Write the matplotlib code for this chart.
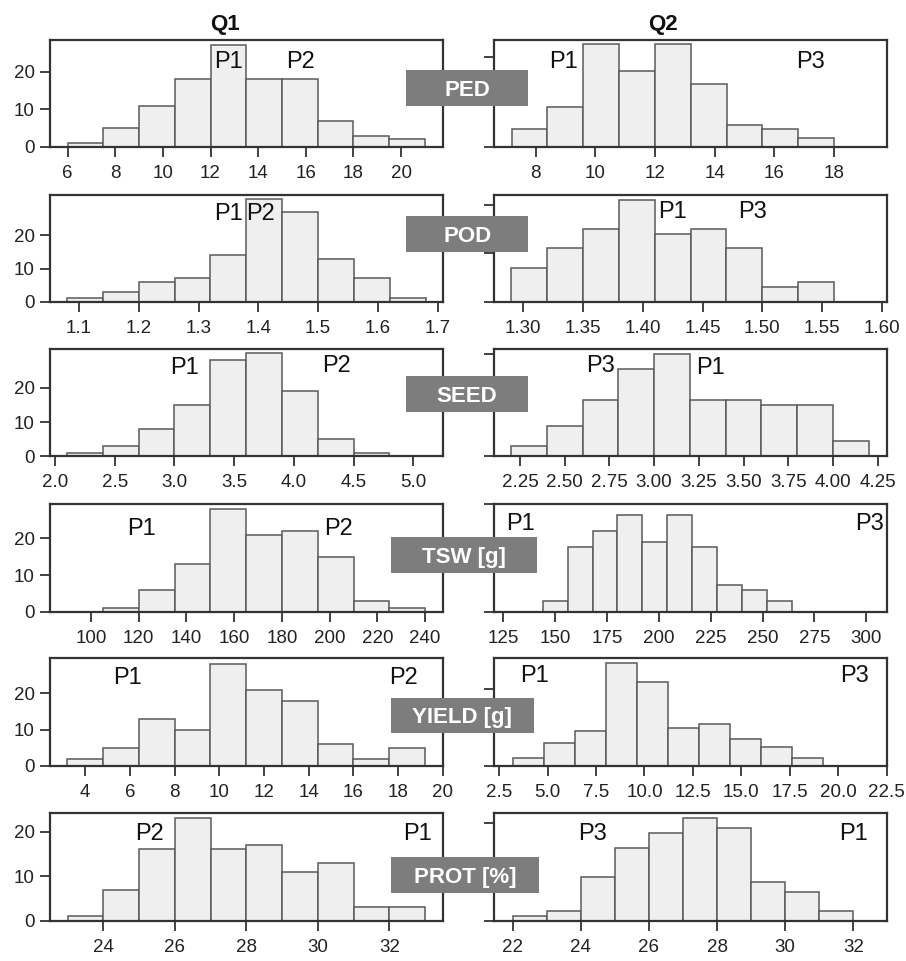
import matplotlib
matplotlib.use('Agg')
import matplotlib.pyplot as plt
from matplotlib.patches import Rectangle

plt.rcParams['font.family'] = ['Liberation Sans', 'DejaVu Sans']

W, H = 906, 961

# ---------- data (bin edges and counts per trait / population) ----------
ped_q1_edges = [6, 7.5, 9, 10.5, 12, 13.5, 15, 16.5, 18, 19.5, 21]
ped_q1_counts = [1, 5, 11, 18, 27, 18, 18, 7, 3, 2]
ped_q2_edges = [7.2, 8.4, 9.6, 10.8, 12.0, 13.2, 14.4, 15.6, 16.8, 18.0]
ped_q2_counts = [4, 9, 23, 17, 23, 14, 5, 4, 2]

pod_q1_edges = [1.08, 1.14, 1.20, 1.26, 1.32, 1.38, 1.44, 1.50, 1.56, 1.62, 1.68]
pod_q1_counts = [1, 3, 6, 7, 14, 31, 27, 13, 7, 1]
pod_q2_edges = [1.29, 1.32, 1.35, 1.38, 1.41, 1.44, 1.47, 1.50, 1.53, 1.56]
pod_q2_counts = [7, 11, 15, 21, 14, 15, 11, 3, 4]

seed_q1_edges = [2.1, 2.4, 2.7, 3.0, 3.3, 3.6, 3.9, 4.2, 4.5, 4.8]
seed_q1_counts = [1, 3, 8, 15, 28, 30, 19, 5, 1]
seed_q2_edges = [2.2, 2.4, 2.6, 2.8, 3.0, 3.2, 3.4, 3.6, 3.8, 4.0, 4.2]
seed_q2_counts = [2, 6, 11, 17, 20, 11, 11, 10, 10, 3]

tsw_q1_edges = [105, 120, 135, 150, 165, 180, 195, 210, 225, 240]
tsw_q1_counts = [1, 6, 13, 28, 21, 22, 15, 3, 1]
tsw_q2_edges = [144, 156, 168, 180, 192, 204, 216, 228, 240, 252, 264]
tsw_q2_counts = [2, 12, 15, 18, 13, 18, 12, 5, 4, 2]

yield_q1_edges = [3.2, 4.8, 6.4, 8.0, 9.6, 11.2, 12.8, 14.4, 16.0, 17.6, 19.2]
yield_q1_counts = [2, 5, 13, 10, 28, 21, 18, 6, 2, 5]
yield_q2_edges = [3.2, 4.8, 6.4, 8.0, 9.6, 11.2, 12.8, 14.4, 16.0, 17.6, 19.2]
yield_q2_counts = [2, 6, 9, 27, 22, 10, 11, 7, 5, 2]

prot_q1_edges = [23, 24, 25, 26, 27, 28, 29, 30, 31, 32, 33]
prot_q1_counts = [1, 7, 16, 23, 16, 17, 11, 13, 3, 3]
prot_q2_edges = [22, 23, 24, 25, 26, 27, 28, 29, 30, 31, 32]
prot_q2_counts = [1, 2, 9, 15, 18, 21, 19, 8, 6, 2]

# tick labels
ped_q1_ticks = ['6', '8', '10', '12', '14', '16', '18', '20']
ped_q2_ticks = ['8', '10', '12', '14', '16', '18']
pod_q1_ticks = ['1.1', '1.2', '1.3', '1.4', '1.5', '1.6', '1.7']
pod_q2_ticks = ['1.30', '1.35', '1.40', '1.45', '1.50', '1.55', '1.60']
seed_q1_ticks = ['2.0', '2.5', '3.0', '3.5', '4.0', '4.5', '5.0']
seed_q2_ticks = ['2.25', '2.50', '2.75', '3.00', '3.25', '3.50', '3.75', '4.00', '4.25']
tsw_q1_ticks = ['100', '120', '140', '160', '180', '200', '220', '240']
tsw_q2_ticks = ['125', '150', '175', '200', '225', '250', '275', '300']
yield_q1_ticks = ['4', '6', '8', '10', '12', '14', '16', '18', '20']
yield_q2_ticks = ['2.5', '5.0', '7.5', '10.0', '12.5', '15.0', '17.5', '20.0', '22.5']
prot_q1_ticks = ['24', '26', '28', '30', '32']
prot_q2_ticks = ['22', '24', '26', '28', '30', '32']

traits = ['PED', 'POD', 'SEED', 'TSW [g]', 'YIELD [g]', 'PROT [%]']
q1_parents = [['P1', 'P2'], ['P1', 'P2'], ['P1', 'P2'], ['P1', 'P2'], ['P1', 'P2'], ['P2', 'P1']]
q2_parents = [['P1', 'P3'], ['P1', 'P3'], ['P3', 'P1'], ['P1', 'P3'], ['P1', 'P3'], ['P3', 'P1']]

# ---------- layout (pixels) ----------
row_y = [(39.5, 147), (194.5, 301.7), (349, 456.3), (504, 611.7), (658.3, 765.8), (813.3, 920.8)]
left_x = (50, 443)
right_x = (494, 887)

q1_xlims = [(5.26, 21.76), (1.0515, 1.709), (1.958, 5.249), (82.8, 247.5), (2.42, 20.01), (22.51, 33.5)]
q2_xlims = [(6.61, 19.77), (1.2755, 1.6044), (2.105, 4.302), (120.5, 310), (2.24, 22.51), (21.45, 32.99)]
q1_ytop = [28.5, 32.3, 31.3, 29.4, 29.7, 24.1]
q2_ytop = [23.9, 22.1, 21.0, 18.9, 28.1, 22.05]

q1_text_pos = [[(228, 60), (301, 60)], [(228, 212), (261, 212)], [(185, 365.5), (336, 363.5)],
               [(141.7, 526.7), (338.7, 526.7)], [(127.3, 675), (403.3, 675)], [(149.5, 831.7), (417.3, 831.7)]]
q2_text_pos = [[(563.3, 60), (810.7, 60)], [(673, 210), (753, 210)], [(600, 364), (710, 366)],
               [(520.5, 521.7), (869.5, 521.7)], [(534.3, 673.3), (854.2, 673.3)], [(592.2, 831), (853.3, 831)]]

boxes = [(406, 528.3, 70, 106), (406, 528.3, 215.7, 251.7), (406, 528.3, 376, 411.7),
         (390.7, 537.3, 536.7, 572.7), (390.7, 534, 697.7, 733.3), (390.7, 539, 856.7, 893.3)]


def px_rect(x0, x1, y0, y1):
    return [x0 / W, 1 - y1 / H, (x1 - x0) / W, (y1 - y0) / H]


def px_text(fig, x, y, s, size, **kw):
    # y is the visual centre of capital letters
    em = size * 100 / 72
    fig.text(x / W, 1 - (y + 0.36 * em) / H, s, ha='center', va='baseline', fontsize=size, **kw)


def plot_hist(fig, rect, edges, counts, tick_labels, xlim, ytop, show_ylabels):
    ax = fig.add_axes(rect)
    widths = [edges[i + 1] - edges[i] for i in range(len(counts))]
    ax.bar(edges[:-1], counts, width=widths, align='edge', color='#efefef',
           edgecolor='#5a5a5a', linewidth=1.1)
    ax.set_xticks([float(t) for t in tick_labels])
    ax.set_xticklabels(tick_labels)
    ax.set_xlim(xlim)
    ax.set_ylim(0, ytop)
    ax.set_yticks([0, 10, 20])
    if not show_ylabels:
        ax.set_yticklabels([])
    ax.tick_params(axis='both', direction='out', length=7, width=1.3, color='#333333',
                   labelsize=13.5, labelcolor='#222222')
    ax.tick_params(axis='x', pad=6)
    ax.tick_params(axis='y', pad=4)
    for sp in ax.spines.values():
        sp.set_linewidth(1.6)
        sp.set_color('#333333')
    return ax


fig = plt.figure(figsize=(W / 100, H / 100), dpi=100)

q1_data = [(ped_q1_edges, ped_q1_counts, ped_q1_ticks), (pod_q1_edges, pod_q1_counts, pod_q1_ticks),
           (seed_q1_edges, seed_q1_counts, seed_q1_ticks), (tsw_q1_edges, tsw_q1_counts, tsw_q1_ticks),
           (yield_q1_edges, yield_q1_counts, yield_q1_ticks), (prot_q1_edges, prot_q1_counts, prot_q1_ticks)]
q2_data = [(ped_q2_edges, ped_q2_counts, ped_q2_ticks), (pod_q2_edges, pod_q2_counts, pod_q2_ticks),
           (seed_q2_edges, seed_q2_counts, seed_q2_ticks), (tsw_q2_edges, tsw_q2_counts, tsw_q2_ticks),
           (yield_q2_edges, yield_q2_counts, yield_q2_ticks), (prot_q2_edges, prot_q2_counts, prot_q2_ticks)]

for i in range(6):
    y0, y1 = row_y[i]
    e, c, t = q1_data[i]
    plot_hist(fig, px_rect(left_x[0], left_x[1], y0, y1), e, c, t, q1_xlims[i], q1_ytop[i], True)
    e, c, t = q2_data[i]
    plot_hist(fig, px_rect(right_x[0], right_x[1], y0, y1), e, c, t, q2_xlims[i], q2_ytop[i], False)

    for lab, (x, y) in zip(q1_parents[i], q1_text_pos[i]):
        px_text(fig, x, y, lab, 17, color='#111111')
    for lab, (x, y) in zip(q2_parents[i], q2_text_pos[i]):
        px_text(fig, x, y, lab, 17, color='#111111')

    bx0, bx1, by0, by1 = boxes[i]
    fig.add_artist(Rectangle((bx0 / W, 1 - by1 / H), (bx1 - bx0) / W, (by1 - by0) / H,
                             transform=fig.transFigure, facecolor='#7d7d7d', edgecolor='none', zorder=10))
    px_text(fig, (bx0 + bx1) / 2, (by0 + by1) / 2, traits[i], 16, color='white',
            fontweight='bold', zorder=11)

px_text(fig, 224.7, 22, 'Q1', 16, fontweight='bold', color='#111111')
px_text(fig, 662.7, 22, 'Q2', 16, fontweight='bold', color='#111111')

fig.savefig('out.png', dpi=100)
